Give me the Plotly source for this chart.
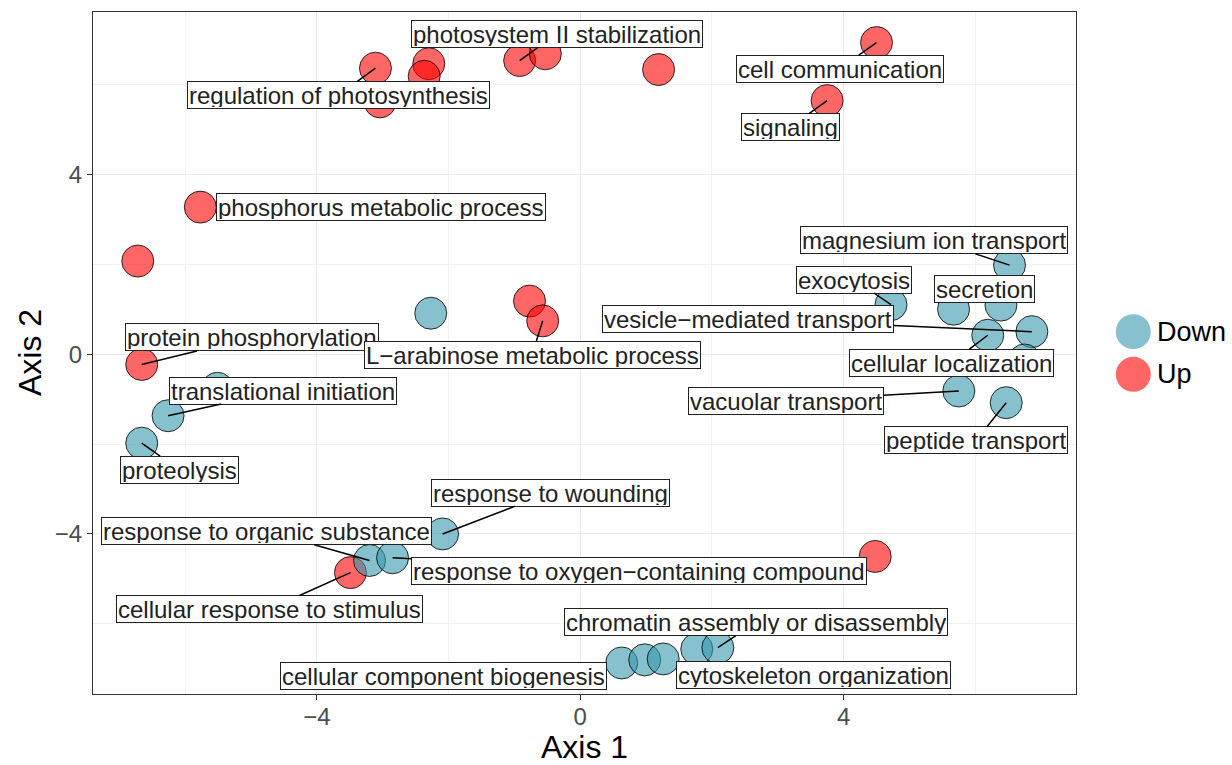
import plotly.graph_objects as go

# ---------------- data ----------------
up_x = [-5.77, -6.72, -6.66, -3.11, -3.04, -2.30, -2.37, -0.92, -0.53, 1.19, 4.50, 3.75, -0.77, -0.57, -3.49, 4.48]
up_y = [3.27, 2.07, -0.23, 6.36, 5.61, 6.46, 6.18, 6.53, 6.68, 6.33, 6.93, 5.64, 1.18, 0.74, -4.86, -4.50]
up_label = ["phosphorus metabolic process", "", "protein phosphorylation", "regulation of photosynthesis",
            "", "", "", "photosystem II stabilization", "", "", "cell communication", "signaling",
            "", "L\u2212arabinose metabolic process", "cellular response to stimulus", ""]

down_x = [-2.27, -5.51, -6.26, -6.66, -2.09, -3.20, -2.85, 0.63, 0.98, 1.26, 1.77, 2.09,
          6.52, 4.72, 6.39, 5.67, 6.19, 6.86, 6.75, 5.75, 6.47]
down_y = [0.91, -0.76, -1.37, -1.98, -4.00, -4.59, -4.53, -6.87, -6.80, -6.78, -6.56, -6.53,
          1.98, 1.10, 1.09, 1.00, 0.42, 0.50, -0.13, -0.82, -1.08]
down_label = ["", "", "translational initiation", "proteolysis", "response to wounding",
              "response to organic substance", "response to oxygen\u2212containing compound",
              "cellular component biogenesis", "", "", "cytoskeleton organization",
              "chromatin assembly or disassembly", "magnesium ion transport", "exocytosis",
              "secretion", "", "cellular localization", "vesicle\u2212mediated transport", "",
              "vacuolar transport", "peptide transport"]

x_ticks = [-4, 0, 4]
y_ticks = [-4, 0, 4]
x_minor = [-6, -2, 2, 6]
y_minor = [-6, -2, 2, 6]

# ---------------- label layout (repelled label centres, data units; draw segment?) ----------------
label_layout = {
    "phosphorus metabolic process": (-3.03, 3.28, False),
    "protein phosphorylation": (-4.98, 0.37, True),
    "regulation of photosynthesis": (-3.67, 5.76, True),
    "photosystem II stabilization": (-0.36, 7.11, True),
    "cell communication": (3.94, 6.35, True),
    "signaling": (3.19, 5.05, True),
    "L\u2212arabinose metabolic process": (-0.73, -0.01, True),
    "cellular response to stimulus": (-4.72, -5.67, True),
    "translational initiation": (-4.52, -0.81, True),
    "proteolysis": (-6.09, -2.57, True),
    "response to wounding": (-0.45, -3.08, True),
    "response to organic substance": (-4.76, -3.94, True),
    "response to oxygen\u2212containing compound": (0.90, -4.82, True),
    "cellular component biogenesis": (-2.07, -7.15, False),
    "cytoskeleton organization": (3.54, -7.13, False),
    "chromatin assembly or disassembly": (2.67, -5.96, True),
    "magnesium ion transport": (5.38, 2.53, True),
    "exocytosis": (4.16, 1.66, True),
    "secretion": (6.14, 1.45, False),
    "cellular localization": (5.64, -0.19, True),
    "vesicle\u2212mediated transport": (2.55, 0.78, True),
    "vacuolar transport": (3.12, -1.04, True),
    "peptide transport": (6.01, -1.92, True),
}

FONT = "Liberation Sans, Arial, Helvetica, sans-serif"
UP_COL = "rgba(255,0,0,0.6)"
DOWN_COL = "rgba(55,152,173,0.6)"

fig = go.Figure()
marker_line = dict(color="rgba(0,0,0,0.8)", width=1)
fig.add_trace(go.Scatter(x=up_x, y=up_y, mode="markers", name="Up", showlegend=False,
                         marker=dict(size=32, color=UP_COL, line=marker_line), hoverinfo="skip"))
fig.add_trace(go.Scatter(x=down_x, y=down_y, mode="markers", name="Down", showlegend=False,
                         marker=dict(size=32, color=DOWN_COL, line=marker_line), hoverinfo="skip"))

annotations = []
for xs, ys, labs in [(up_x, up_y, up_label), (down_x, down_y, down_label)]:
    for px, py, lab in zip(xs, ys, labs):
        if not lab:
            continue
        lx, ly, seg = label_layout[lab]
        common = dict(text=lab, font=dict(family=FONT, size=24, color="#222222"),
                      bgcolor="white", bordercolor="#222222", borderwidth=1, borderpad=1,
                      height=24)
        if seg:
            annotations.append(dict(x=px, y=py, xref="x", yref="y", ax=lx, ay=ly,
                                    axref="x", ayref="y", showarrow=True, arrowhead=0,
                                    arrowwidth=1.5, arrowcolor="black", standoff=0, **common))
        else:
            annotations.append(dict(x=lx, y=ly, xref="x", yref="y", showarrow=False, **common))

# manual legend (large keys as in reference)
ML, MR, MT, MB = 93, 156, 12, 71
W, H = 1232, 765
pw, ph = W - ML - MR, H - MT - MB
def px2paper(x, y):
    return (x - ML) / pw, (H - MB - y) / ph

shapes = []
for name, col, cy in [("Down", DOWN_COL, 331.7), ("Up", UP_COL, 374.3)]:
    xp, yp = px2paper(1133.3, cy)
    shapes.append(dict(type="circle", xref="paper", yref="paper", xsizemode="pixel",
                       ysizemode="pixel", xanchor=xp, yanchor=yp, x0=-17.5, x1=17.5,
                       y0=-17.5, y1=17.5, fillcolor=col, line=dict(width=0), layer="above"))
    tx, ty = px2paper(1155, cy)
    annotations.append(dict(x=tx, y=ty, xref="paper", yref="paper", text=name, showarrow=False,
                            xanchor="left", yanchor="middle",
                            font=dict(family=FONT, size=27, color="black")))

# y-axis title placed explicitly
ytx, yty = px2paper(30, 353)
annotations.append(dict(x=ytx, y=yty, xref="paper", yref="paper", text="Axis 2", showarrow=False,
                        textangle=-90, xanchor="center", yanchor="middle",
                        font=dict(family=FONT, size=32, color="black")))

axis_common = dict(showgrid=True, gridcolor="#EBEBEB", gridwidth=1.1, zeroline=False,
                   showline=True, linecolor="#333333", linewidth=1.2, mirror=True,
                   ticks="outside", ticklen=5, tickwidth=1.1, tickcolor="#333333",
                   automargin=False,
                   tickfont=dict(family=FONT, size=24, color="#4D4D4D"))

fig.update_layout(
    width=W, height=H,
    margin=dict(l=ML, r=MR, t=MT, b=MB),
    paper_bgcolor="white", plot_bgcolor="white",
    font=dict(family=FONT),
    showlegend=False,
    xaxis=dict(range=[-7.40, 7.53], tickvals=x_ticks, ticklabelstandoff=-4,
               minor=dict(tickvals=x_minor, showgrid=True, gridcolor="#F2F2F2", gridwidth=0.6, ticks=""),
               title=dict(text="Axis 1", font=dict(family=FONT, size=32, color="black"), standoff=16),
               **axis_common),
    yaxis=dict(range=[-7.56, 7.61], tickvals=y_ticks, ticklabelstandoff=0,
               minor=dict(tickvals=y_minor, showgrid=True, gridcolor="#F2F2F2", gridwidth=0.6, ticks=""),
               **axis_common),
    annotations=annotations,
    shapes=shapes,
)

fig.write_html("out.html", config={"displayModeBar": False},
               post_script="document.body.style.margin='0';")
